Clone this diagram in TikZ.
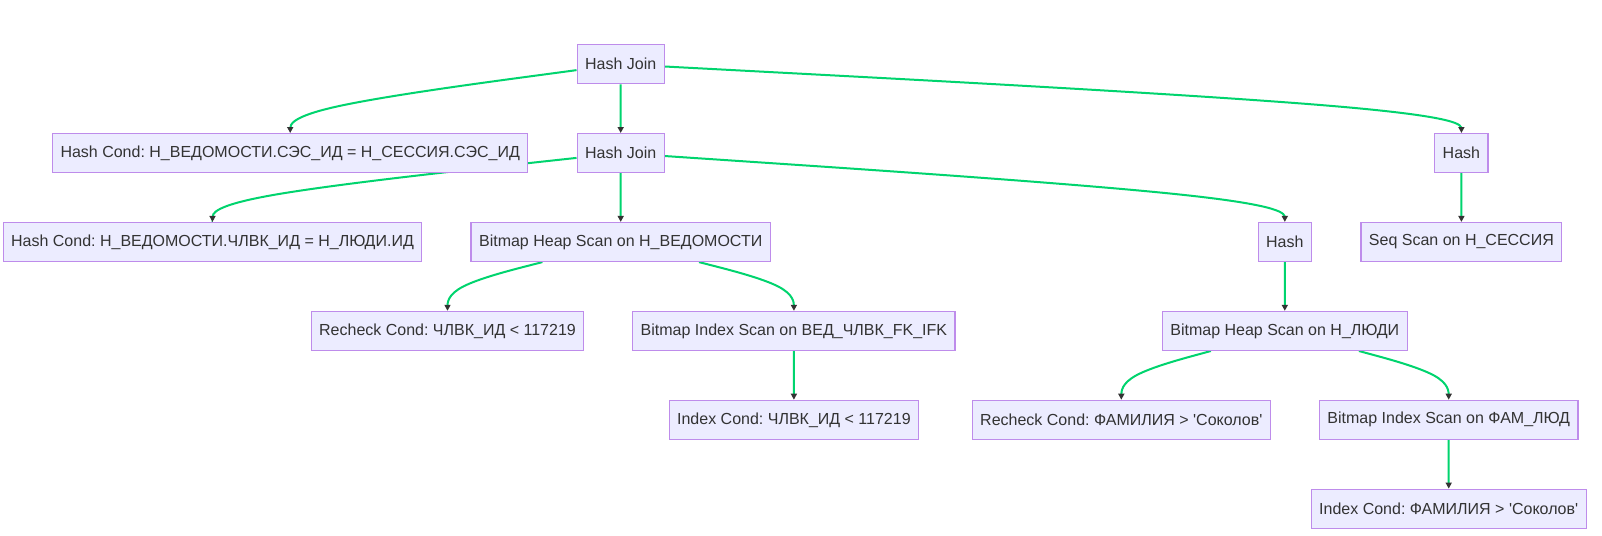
\documentclass[tikz,border=0pt]{standalone}
\usepackage{fontspec}
\setmainfont{Liberation Sans}[Ligatures=TeXOff]
\usetikzlibrary{arrows.meta,calc}
\definecolor{nodefill}{HTML}{ECECFF}
\definecolor{nodeline}{RGB}{190,140,235}
\definecolor{edgec}{RGB}{0,212,110}
\definecolor{tipc}{HTML}{333333}
\definecolor{txt}{HTML}{333333}
\pgfdeclarelayer{background}
\pgfsetlayers{background,main}
\frenchspacing
\tikzset{
 box/.style={draw=nodeline, fill=nodefill, line width=1.2pt, minimum height=39pt, inner xsep=8pt, inner ysep=0pt, text=txt, font=\fontsize{16pt}{19pt}\selectfont},
 link/.style={draw=edgec, line width=2pt, -{Triangle[length=6pt,width=6pt,color=tipc]}},
}
\newcommand\mmlink[3]{%
 \coordinate (#1m0) at ($(#2.south)!0.5!(#3.north)$);
 \coordinate (#1M) at (#3.north |- #1m0);
 \path (#2) -- (#1M) coordinate[pos=0] (#1S);
 \draw[link] (#1S) -- ($(#1S)!1/6!(#1M)$) .. controls ($(#1S)!1/3!(#1M)$) and ($(#1S)!2/3!(#1M)$) .. ($0.1666667*(#1S)+0.6666667*(#1M)+0.1666667*(#3.north)$) .. controls ($(#1M)!1/3!(#3.north)$) and ($(#1M)!2/3!(#3.north)$) .. ($(#1M)!5/6!(#3.north)$) -- (#3.north);
}
\begin{document}
\begin{tikzpicture}[x=1pt,y=-1pt]
\useasboundingbox (0,0) rectangle (1602,535);
\node[box] (hj1) at (620.7,64.2) {Hash Join};
\node[box] (hc1) at (290.2,153.1) {Hash Cond: Н\_ВЕДОМОСТИ.СЭС\_ИД = Н\_СЕССИЯ.СЭС\_ИД};
\node[box] (hj2) at (620.7,153.1) {Hash Join};
\node[box] (hash1) at (1461.4,153.1) {Hash};
\node[box] (hc2) at (212.5,242.0) {Hash Cond: Н\_ВЕДОМОСТИ.ЧЛВК\_ИД = Н\_ЛЮДИ.ИД};
\node[box] (bhs1) at (620.7,242.0) {Bitmap Heap Scan on Н\_ВЕДОМОСТИ};
\node[box] (hash2) at (1284.8,242.0) {Hash};
\node[box] (seq) at (1461.4,242.0) {Seq Scan on Н\_СЕССИЯ};
\node[box] (rc1) at (447.5,330.9) {Recheck Cond: ЧЛВК\_ИД < 117219};
\node[box] (bis1) at (793.9,330.9) {Bitmap Index Scan on ВЕД\_ЧЛВК\_FK\_IFK};
\node[box] (bhs2) at (1284.8,330.9) {Bitmap Heap Scan on Н\_ЛЮДИ};
\node[box] (ic1) at (793.9,419.8) {Index Cond: ЧЛВК\_ИД < 117219};
\node[box] (rc2) at (1121.3,419.8) {Recheck Cond: ФАМИЛИЯ > 'Соколов'};
\node[box] (bis2) at (1448.7,419.8) {Bitmap Index Scan on ФАМ\_ЛЮД};
\node[box] (ic2) at (1448.7,508.7) {Index Cond: ФАМИЛИЯ > 'Соколов'};
\begin{pgfonlayer}{background}
\fill[white] (0,0) rectangle (1602,535);
\mmlink{ea}{hj1}{hc1}
\mmlink{eb}{hj1}{hj2}
\mmlink{ec}{hj1}{hash1}
\mmlink{ed}{hj2}{hc2}
\mmlink{ee}{hj2}{bhs1}
\mmlink{ef}{hj2}{hash2}
\mmlink{eg}{hash1}{seq}
\mmlink{eh}{bhs1}{rc1}
\mmlink{ei}{bhs1}{bis1}
\mmlink{ej}{bis1}{ic1}
\mmlink{ek}{hash2}{bhs2}
\mmlink{el}{bhs2}{rc2}
\mmlink{em}{bhs2}{bis2}
\mmlink{en}{bis2}{ic2}
\end{pgfonlayer}
\end{tikzpicture}
\end{document}
